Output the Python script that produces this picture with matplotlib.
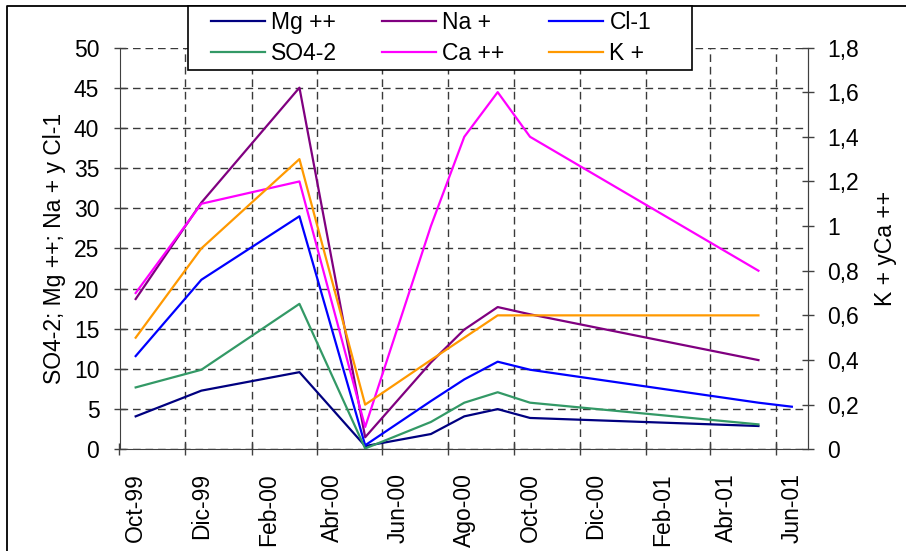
#!/usr/bin/env python
import datetime as dt

import matplotlib
matplotlib.use('Agg')
import matplotlib.pyplot as plt
import matplotlib.dates as mdates
from matplotlib.lines import Line2D
from matplotlib.patches import Rectangle
from matplotlib.ticker import FuncFormatter, MultipleLocator
import numpy as np

plt.rcParams['font.family'] = ['Liberation Sans', 'DejaVu Sans']

nan = np.nan

# fechas de muestreo
fechas = [dt.date(1999, 10, 16), dt.date(1999, 12, 16), dt.date(2000, 3, 16),
          dt.date(2000, 5, 16), dt.date(2000, 7, 16), dt.date(2000, 8, 16),
          dt.date(2000, 9, 16), dt.date(2000, 10, 16), dt.date(2001, 5, 16),
          dt.date(2001, 6, 16)]

# eje principal
mg = [4.1, 7.3, 9.6, 0.4, 1.9, 4.1, 5.0, 3.9, 2.9, nan]
na = [18.7, 30.7, 45.0, 1.5, 10.8, 14.9, 17.7, 16.8, 11.1, nan]
cl = [11.6, 21.1, 29.0, 0.5, 6.0, 8.7, 10.9, 9.9, 5.8, 5.3]
so4 = [7.7, 9.9, 18.1, 0.1, 3.4, 5.8, 7.1, 5.8, 3.1, nan]

# eje secundario
ca = [0.7, 1.1, 1.2, 0.1, 1.0, 1.4, 1.6, 1.4, 0.8, nan]
k = [0.5, 0.9, 1.3, 0.2, 0.4, 0.5, 0.6, 0.6, 0.6, nan]

etiquetas_x = ['Oct-99', 'Dic-99', 'Feb-00', 'Abr-00', 'Jun-00', 'Ago-00',
               'Oct-00', 'Dic-00', 'Feb-01', 'Abr-01', 'Jun-01']

# inicio de cada bimestre (marcas) y mitad de mes (etiquetas)
marcas = []
y, m = 1999, 10
for _ in etiquetas_x:
   marcas.append(dt.date(y, m, 1))
   m += 2
   if m > 12:
      m -= 12
      y += 1
centros = [d.replace(day=16) for d in marcas]

fs = 16.5
W, H = 906, 551
fig = plt.figure(figsize=(W / 100, H / 100), dpi=100)
ax = fig.add_axes([119.5 / W, 1 - 449.3 / H, (808 - 119.5) / W, (449.3 - 47.5) / H])
ax2 = ax.twinx()

lw = 1.6
l_mg, = ax.plot(fechas, mg, color='#000080', lw=lw, label='Mg ++')
l_na, = ax.plot(fechas, na, color='#800080', lw=lw, label='Na +')
l_cl, = ax.plot(fechas, cl, color='#0000FF', lw=lw, label='Cl-1')
l_so4, = ax.plot(fechas, so4, color='#339966', lw=lw, label='SO4-2')
l_ca, = ax2.plot(fechas, ca, color='#FF00FF', lw=lw, label='Ca ++')
l_k, = ax2.plot(fechas, k, color='#FF9900', lw=lw, label='K +')

ax.set_xlim(mdates.date2num(dt.date(1999, 10, 1)), mdates.date2num(dt.date(2001, 7, 1)))
ax.set_ylim(0, 50)
ax2.set_ylim(0, 1.8)
ax.yaxis.set_major_locator(MultipleLocator(5))
ax2.yaxis.set_major_locator(MultipleLocator(0.2))
ax2.yaxis.set_major_formatter(FuncFormatter(lambda v, p: ('%g' % round(v, 2)).replace('.', ',')))

ax.set_xticks([mdates.date2num(d) for d in marcas])
ax.set_xticklabels([''] * len(marcas))
ax.set_xticks([mdates.date2num(d) for d in centros], minor=True)
ax.set_xticklabels(etiquetas_x, minor=True, rotation=90, fontsize=fs)
ax.tick_params(axis='x', which='minor', length=0, pad=17)
ax.tick_params(axis='x', which='major', direction='inout', length=9, width=1, color='#404040')

ax.tick_params(axis='y', direction='inout', length=9, width=1, pad=10, labelsize=fs, color='#404040')
ax2.tick_params(axis='y', direction='inout', length=9, width=1, pad=9, labelsize=fs, color='#404040')

grid_kw = dict(color='#3a3a3a', lw=1.0, dashes=(5.5, 3.5))
ax.grid(True, which='major', axis='both', **grid_kw)
ax.set_axisbelow(True)

for a in (ax, ax2):
   a.spines['top'].set_visible(False)
   for s in a.spines.values():
      s.set_color('#404040')
ax2.spines['left'].set_visible(False)
ax2.spines['bottom'].set_visible(False)

ax.set_ylabel('SO4-2; Mg ++; Na + y Cl-1', fontsize=fs, labelpad=6)
ax2.set_ylabel('K + yCa ++', fontsize=fs, labelpad=11)

# caja de la leyenda, tapa la parte alta del grafico
fig.add_artist(Rectangle((188 / W, 1 - 70 / H), (692 - 188) / W, 64 / H,
                         transform=fig.transFigure, facecolor='white',
                         edgecolor='black', lw=1.2, zorder=4))

handles = [l_mg, l_so4, l_na, l_ca, l_cl, l_k]
leg = fig.legend(handles, [h.get_label() for h in handles], ncol=3, loc='upper left',
                 bbox_to_anchor=(211 / W, 1 - 11 / H), borderaxespad=0, borderpad=0,
                 fontsize=fs, handlelength=2.35, handletextpad=0.28,
                 labelspacing=0.36, columnspacing=1.95, frameon=False)
leg.set_zorder(5)

# marco exterior del grafico
fig.add_artist(Line2D([7 / W, 7 / W, 1], [0, 1 - 6 / H, 1 - 6 / H],
                      transform=fig.transFigure, color='black', lw=1.3))

fig.savefig('out.png', dpi=100)
plt.clf()
